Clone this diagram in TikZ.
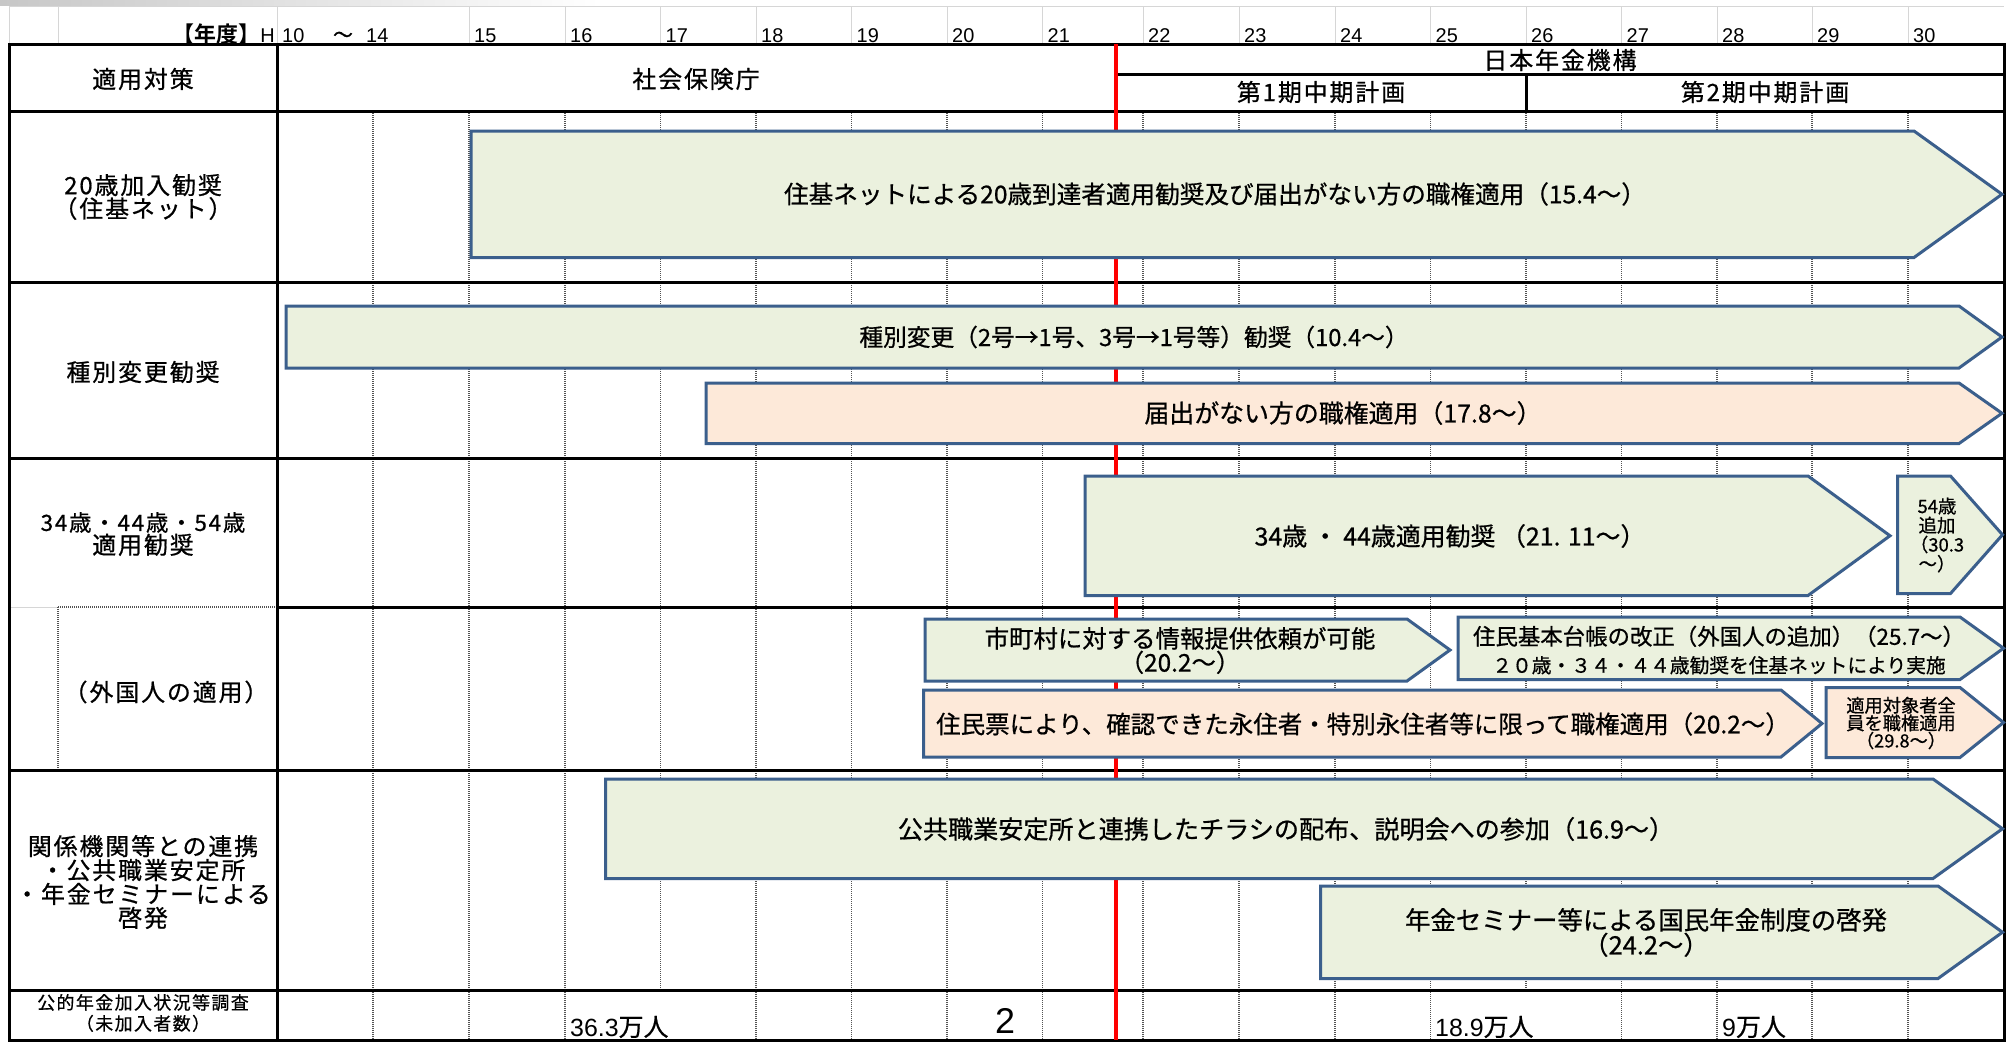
\documentclass[tikz,border=0pt]{standalone}
\usepackage{fontspec}
\setmainfont{Noto Sans CJK JP}[FakeBold=0.7]
\newfontfamily\lblfont{Noto Sans CJK JP}[LetterSpace=8,FakeBold=0.7]
\newfontfamily\latinfont{Liberation Sans}
\newfontfamily\heavyfont{Noto Sans CJK JP Bold}
\definecolor{barblue}{HTML}{3B5F8C}
\definecolor{bargreen}{HTML}{EBF1DE}
\definecolor{barpeach}{HTML}{FDE9D9}
% chevron bar: style, left x, shoulder x, tip x, top y, bottom y
\newcommand\chevbar[6]{\draw[#1] (#2,#5) -- (#3,#5) -- (#4,{(#5+#6)/2}) -- (#3,#6) -- (#2,#6) -- cycle;}
\begin{document}
\begin{tikzpicture}[x=1bp, y=-1bp,
  tbl/.style={line width=3bp, draw=black},
  sheet/.style={line width=1bp, draw=black!16},
  grid/.style={line width=1.2bp, draw=black!68, dash pattern=on 1.3bp off 0.7bp},
  redline/.style={line width=3.6bp, draw=red},
  greenbar/.style={draw=barblue, fill=bargreen, line width=3bp, line join=miter},
  peachbar/.style={draw=barblue, fill=barpeach, line width=3bp, line join=miter},
  lbl/.style={inner sep=0pt, align=center, font=\lblfont\fontsize{24}{22}\selectfont},
  yr/.style={inner sep=0pt, font=\latinfont\fontsize{20}{20}\selectfont},
  bartext/.style={inner sep=0pt, align=center, font=\fontsize{24}{28}\selectfont},
  count/.style={inner sep=0pt, font=\fontsize{25}{25}\selectfont}]
\fill[white] (0,0) rectangle (2012,1041);
\useasboundingbox (0,0) rectangle (2012,1041);

% sheet grid of the year row
\shade[left color=black!22, right color=white] (0,0) rectangle (600,5);
\draw[sheet] (9,6) -- (2004,6);
\foreach \x in {9,58,277,469,565,660.5,756,851.5,947,1042.5,1143,1239,1335,1430.5,1526,1621.5,1717,1812,1908}
  \draw[sheet] (\x,6) -- (\x,44);

% dotted year columns
\foreach \x in {373,469,565,660.5,756,851.5,947,1042.5,1143,1239,1335,1430.5,1526,1621.5,1717,1812,1908}
  \draw[grid] (\x,111) -- (\x,990);
\foreach \x in {373,469,565,756,851.5,947,1042.5,1143,1239,1335,1430.5,1621.5,1717,1812,1908}
  \draw[grid] (\x,990) -- (\x,1040);

% indented label cell of the foreigners row
\draw[sheet] (9,607) -- (58,607);
\draw[grid] (58,607) -- (277,607);
\draw[grid] (58,607) -- (58,770);

% table rules
\draw[tbl] (9,44) rectangle (2004,1040);
\foreach \y in {111,282,458,770,990} \draw[tbl] (9,\y) -- (2004,\y);
\draw[tbl] (277,607) -- (2004,607);
\draw[tbl] (277,44) -- (277,1040);
\draw[tbl] (1116,74) -- (2004,74);
\draw[tbl] (1526,74) -- (1526,111);

% organisation change (2010.1)
\draw[redline] (1116,44) -- (1116,1040);

% year row
\node[yr, anchor=base east] (fy) at (275,42) {{\heavyfont\fontsize{22}{22}\selectfont 【年度】}H};
\node[yr, anchor=base west] (y10) at (282,42) {10};
\node[yr, anchor=base, font=\fontsize{20}{20}\selectfont] (ytil) at (343,42) {～};
\node[yr, anchor=base west] (y14) at (366,42) {14};
\foreach \x/\t in {474/15,570/16,665.5/17,761/18,856.5/19,952/20,1047.5/21,1148/22,1244/23,1340/24,1435.5/25,1531/26,1626.5/27,1722/28,1817/29,1913/30}
  \node[yr, anchor=base west] (y\t) at (\x,42) {\t};

% header cells
\node[lbl] (hmeasure) at (143,79) {適用対策};
\node[lbl] (hsia) at (696,79) {社会保険庁};
\node[lbl] (hjps) at (1560,60) {日本年金機構};
\node[lbl] (hplan1) at (1321,92) {第1期中期計画};
\node[lbl] (hplan2) at (1765,92) {第2期中期計画};

% row labels
\node[lbl] (l20) at (143,197) {20歳加入勧奨\\（住基ネット）};
\node[lbl] (lkind) at (143,372) {種別変更勧奨};
\node[lbl] (l34) at (143,534) {{\fontsize{22.5}{22}\selectfont 34歳・44歳・54歳}\\適用勧奨};
\node[lbl] (lforeign) at (166,692) {（外国人の適用）};
\node[lbl, font=\lblfont\fontsize{24}{24}\selectfont] (lcoop) at (143,882) {関係機関等との連携\\・公共職業安定所\\・年金セミナーによる\\啓発};
\node[lbl, font=\lblfont\fontsize{18}{21}\selectfont] (lsurvey) at (143,1013) {公的年金加入状況等調査\\（未加入者数）};

% bars
\chevbar{greenbar}{471}{1914}{2002}{131}{257.5}
\chevbar{greenbar}{286}{1959}{2002}{306}{368}
\chevbar{peachbar}{706}{1959}{2002}{383}{443.5}
\chevbar{greenbar}{1085}{1808}{1890}{476}{595.5}
\chevbar{greenbar}{1897.5}{1950.5}{2002.5}{476}{593.5}
\chevbar{greenbar}{925}{1407}{1450}{619}{681}
\chevbar{greenbar}{1458}{1960}{2003.5}{617}{679.5}
\chevbar{peachbar}{923.5}{1781}{1822}{690}{757}
\chevbar{peachbar}{1826}{1960}{2003.5}{687.5}{757.5}
\chevbar{greenbar}{605.5}{1933}{2002.5}{779}{878.5}
\chevbar{greenbar}{1320.5}{1938}{2002.5}{886}{978.5}

% bar texts
\node[bartext, font=\fontsize{24.7}{28}\selectfont] (t1) at (1215,194) {住基ネットによる20歳到達者適用勧奨及び届出がない方の職権適用（15.4～）};
\node[bartext, font=\fontsize{23.8}{28}\selectfont] (t2) at (1134,337) {種別変更（2号→1号、3号→1号等）勧奨（10.4～）};
\node[bartext, font=\fontsize{25}{28}\selectfont] (t3) at (1343,413) {届出がない方の職権適用（17.8～）};
\node[bartext, font=\fontsize{25}{28}\selectfont] (t4) at (1450,536) {34歳 ・ 44歳適用勧奨 （21. 11～）};
\node[bartext, font=\fontsize{18.5}{19.3}\selectfont] (t5) at (1937,535) {54歳\\追加\\（30.3\\～）};
\node[bartext, font=\fontsize{24.5}{23}\selectfont] (t6) at (1180,650.5) {市町村に対する情報提供依頼が可能\\（20.2～）};
\node[bartext, align=center] (t7) at (1719,650) {{\fontsize{22.5}{24}\selectfont 住民基本台帳の改正（外国人の追加）（25.7～）}\\{\fontsize{19.8}{24}\selectfont ２０歳・３４・４４歳勧奨を住基ネットにより実施}};
\node[bartext, font=\fontsize{24.6}{28}\selectfont] (t8) at (1363,724) {住民票により、確認できた永住者・特別永住者等に限って職権適用（20.2～）};
\node[bartext, font=\fontsize{18.3}{17.7}\selectfont] (t9) at (1901,723) {適用対象者全\\員を職権適用\\（29.8～）};
\node[bartext, font=\fontsize{25.2}{28}\selectfont] (t10) at (1286,829) {公共職業安定所と連携したチラシの配布、説明会への参加（16.9～）};
\node[bartext, font=\fontsize{25.5}{25}\selectfont] (t11) at (1646,932.5) {年金セミナー等による国民年金制度の啓発\\（24.2～）};

% survey figures
\node[count, anchor=base west] (c15) at (570,1036) {{\latinfont 36.3}万人};
\node[inner sep=0pt, font=\latinfont\fontsize{36}{36}\selectfont] (c20) at (1005,1021) {2};
\node[count, anchor=base west] (c25) at (1435,1036) {{\latinfont 18.9}万人};
\node[count, anchor=base west] (c28) at (1722,1036) {{\latinfont 9}万人};
\end{tikzpicture}
\end{document}
